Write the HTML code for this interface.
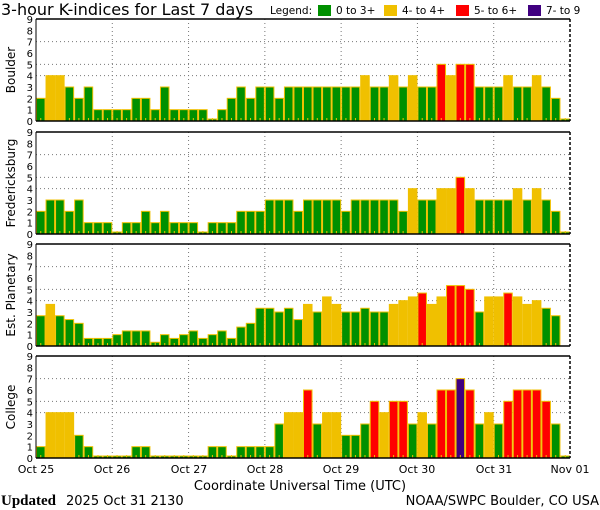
<!DOCTYPE html>
<html><head><meta charset="utf-8"><style>
html,body{margin:0;padding:0;background:#fff;}
svg{display:block;font-family:"DejaVu Sans","Liberation Sans",sans-serif;}
</style></head><body>
<svg id="s" width="600" height="510" xmlns="http://www.w3.org/2000/svg">
<text x="1" y="15" font-size="16">3-hour K-indices for Last 7 days</text>
<text x="270" y="14" font-size="10.5">Legend:</text>
<rect x="318" y="5" width="13" height="11" fill="#009000"/><text x="336" y="14" font-size="10.5">0 to 3+</text>
<rect x="384" y="5" width="13" height="11" fill="#f0c000"/><text x="402" y="14" font-size="10.5">4- to 4+</text>
<rect x="456" y="5" width="13" height="11" fill="#ff0000"/><text x="474" y="14" font-size="10.5">5- to 6+</text>
<rect x="528" y="5" width="13" height="11" fill="#400080"/><text x="546" y="14" font-size="10.5">7- to 9</text>
<g id="g"></g>
<g font-size="11" text-anchor="middle">
<text x="36" y="473">Oct 25</text><text x="112" y="473">Oct 26</text><text x="189" y="473">Oct 27</text><text x="265" y="473">Oct 28</text><text x="341" y="473">Oct 29</text><text x="417" y="473">Oct 30</text><text x="494" y="473">Oct 31</text><text x="570" y="473">Nov 01</text>
</g>
<text x="300" y="490" font-size="13" text-anchor="middle">Coordinate Universal Time (UTC)</text>
<text x="1" y="505" font-size="15" font-family="Liberation Serif,serif" font-weight="bold">Updated</text>
<text x="66" y="505" font-size="13">2025 Oct 31 2130</text>
<text x="599" y="505" font-size="13" text-anchor="end">NOAA/SWPC Boulder, CO USA</text>
</svg>
<script>
var data=[
["Boulder",19,[2,4,4,3,2,3,1,1,1,1,2,2,1,3,1,1,1,1,0,1,2,3,2,3,3,2,3,3,3,3,3,3,3,3,4,3,3,4,3,4,3,3,5,4,5,5,3,3,3,4,3,3,4,3,2,0]],
["Fredericksburg",132,[2,3,3,2,3,1,1,1,0,1,1,2,1,2,1,1,1,0,1,1,1,2,2,2,3,3,3,2,3,3,3,3,2,3,3,3,3,3,2,4,3,3,4,4,5,4,3,3,3,3,4,3,4,3,2,0]],
["Est. Planetary",244,[2.67,3.67,2.67,2.33,2,.67,.67,.67,1,1.33,1.33,1.33,.33,1,.67,1,1.33,.67,1,1.33,.67,1.67,2,3.33,3.33,3,3.33,2.33,3.67,3,4.33,3.67,3,3,3.33,3,3,3.67,4,4.33,4.67,3.67,4.33,5.33,5.33,5,3,4.33,4.33,4.67,4.33,3.67,4,3.33,2.67,null]],
["College",356,[1,4,4,4,2,1,0,0,0,0,1,1,0,0,0,0,0,0,1,1,0,1,1,1,1,3,4,4,6,3,4,4,2,2,3,5,4,5,5,3,4,3,6,6,7,6,3,4,3,5,6,6,6,5,3,0]]];
var L=36,R=570,H=102,U=H/9,bw=(R-L)/56,h='';
function col(v){return v<3.5?'#009000':v<4.5?'#f0c000':v<6.5?'#ff0000':'#400080';}
data.forEach(function(p){
 var t=p[1],b=t+H;
 for(var d=1;d<7;d++){var x=L+d*bw*8;h+='<line x1="'+x+'" y1="'+t+'" x2="'+x+'" y2="'+b+'" stroke="#777" stroke-dasharray="1,3"/>';}
 [4,5,7].forEach(function(k){var y=b-k*U;h+='<line x1="'+L+'" y1="'+y+'" x2="'+R+'" y2="'+y+'" stroke="#777" stroke-dasharray="1,3"/>';});
 p[2].forEach(function(v,i){if(v===null)return;var x=L+i*bw,hh=Math.max(v*U,2);
  h+='<rect x="'+(x+0.5)+'" y="'+(b-hh)+'" width="'+(bw-1)+'" height="'+hh+'" fill="'+col(v)+'" stroke="#f0c000" stroke-width="1"/>';
  h+='<rect x="'+(x+bw/2-0.5)+'" y="'+(b-3)+'" width="1" height="3" fill="#f0c000"/>';});
 h+='<line x1="'+L+'" y1="'+t+'" x2="'+R+'" y2="'+t+'" stroke="#000" stroke-width="1.5"/>';
 h+='<line x1="'+L+'" y1="'+b+'" x2="'+R+'" y2="'+b+'" stroke="#000" stroke-width="1.5"/>';
 h+='<line x1="'+L+'" y1="'+t+'" x2="'+L+'" y2="'+b+'" stroke="#000" stroke-width="1"/>';
 h+='<line x1="'+R+'" y1="'+t+'" x2="'+R+'" y2="'+b+'" stroke="#000" stroke-width="1.5" stroke-dasharray="3,2"/>';
 for(var k=0;k<=9;k++){h+='<text x="33" y="'+(b-k*U+4)+'" font-size="10" text-anchor="end">'+k+'</text>';}
 var cy=t+H/2;h+='<text x="15" y="'+cy+'" font-size="12" text-anchor="middle" transform="rotate(-90 15 '+cy+')">'+p[0]+'</text>';
});
document.getElementById('g').innerHTML=h;
</script>
</body></html>
